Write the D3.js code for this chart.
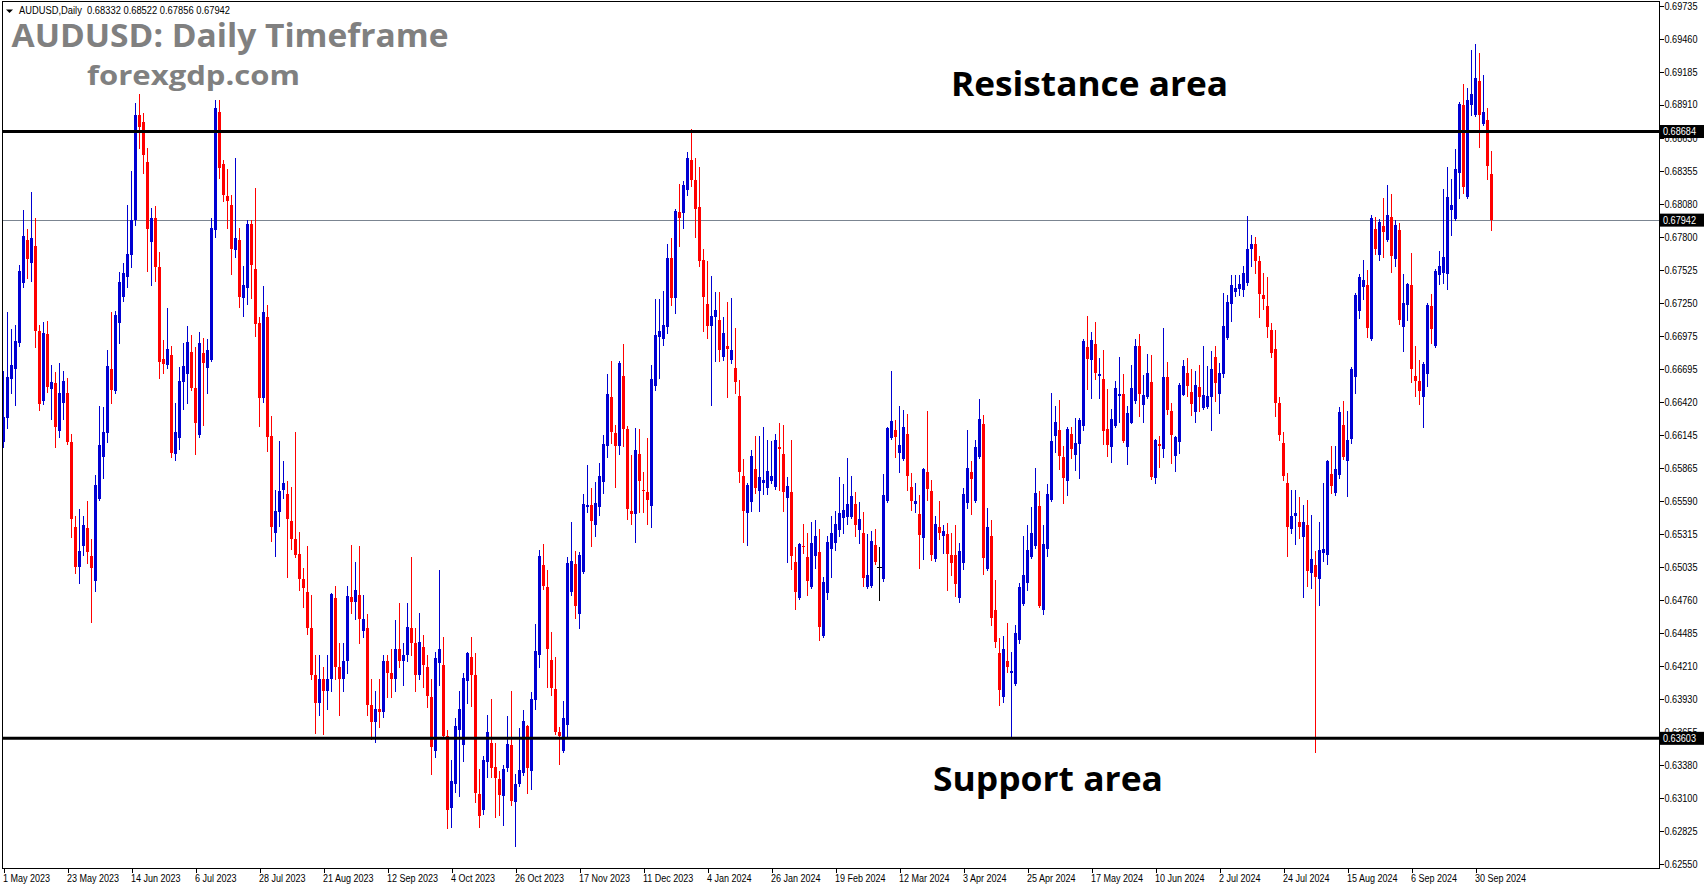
<!DOCTYPE html>
<html><head><meta charset="utf-8">
<script src="https://cdn.jsdelivr.net/npm/d3@7"></script>
<style>
html,body{margin:0;padding:0;background:#fff;overflow:hidden;}
svg{display:block;}
</style></head>
<body>
<svg id="chart" width="1705" height="888"></svg>
<script>
// ---------- DATA (AUDUSD daily, 1 May 2023 .. 4 Oct 2024) ----------
const openPrices = [
0.66087,0.66282,0.66609,0.66693,0.66916,0.67413,0.67776,0.67581,0.67726,0.67014,
0.66430,0.66989,0.66531,0.66578,0.66179,0.66408,0.66495,0.66084,0.65375,0.65040,
0.65216,0.65367,0.65129,0.64923,0.65610,0.65956,0.66162,0.66696,0.66514,0.67078,
0.67302,0.67463,0.67651,0.67943,0.68823,0.68764,0.68429,0.67762,0.67960,0.67550,
0.66779,0.66729,0.66813,0.65986,0.66121,0.66590,0.66654,0.66841,0.66537,0.66143,
0.66832,0.66707,0.66771,0.67860,0.68851,0.68412,0.68144,0.68069,0.67692,0.67776,
0.67290,0.67374,0.67910,0.67533,0.67081,0.66453,0.67131,0.66134,0.65325,0.65501,
0.65682,0.65649,0.65423,0.65275,0.65146,0.64937,0.64828,0.64530,0.64130,0.63900,
0.64100,0.64000,0.64100,0.64775,0.64200,0.64100,0.64250,0.64786,0.64741,0.64800,
0.64500,0.64524,0.63880,0.63740,0.63850,0.63820,0.64250,0.64150,0.64100,0.64350,
0.64250,0.64300,0.64524,0.64400,0.64134,0.64368,0.64200,0.63949,0.63501,0.64230,
0.64218,0.63620,0.63016,0.63217,0.63677,0.63551,0.64087,0.64284,0.64134,0.63139,
0.63004,0.63405,0.63566,0.63363,0.63264,0.63121,0.63357,0.63551,0.63070,0.63223,
0.63312,0.63710,0.63333,0.63925,0.64305,0.65055,0.64867,0.64260,0.64015,0.63656,
0.63501,0.63716,0.64828,0.65061,0.64643,0.64996,0.65540,0.65555,0.65387,0.65540,
0.65746,0.66048,0.66461,0.66162,0.66048,0.66637,0.66192,0.65504,0.65480,0.65982,
0.65680,0.65665,0.65546,0.66553,0.66966,0.66950,0.67047,0.67625,0.67290,0.68011,
0.68002,0.68195,0.68446,0.68279,0.68053,0.67609,0.67240,0.67059,0.67134,0.67106,
0.66796,0.66888,0.66774,0.66704,0.66470,0.65800,0.65486,0.65579,0.65860,0.65677,
0.65743,0.65695,0.65758,0.65710,0.66045,0.65982,0.65615,0.65665,0.65082,0.64777,
0.65211,0.65121,0.64867,0.65130,0.65160,0.64463,0.64822,0.65190,0.65241,0.65351,
0.65450,0.65459,0.65459,0.65565,0.65347,0.65322,0.64870,0.64881,0.65221,0.65034,
0.64937,0.65590,0.66120,0.66185,0.65992,0.65942,0.66151,0.65707,0.65568,0.65481,
0.65283,0.65833,0.65674,0.65104,0.65372,0.65297,0.65314,0.65138,0.65138,0.64780,
0.65071,0.65576,0.65833,0.65590,0.65958,0.66235,0.65020,0.65297,0.64677,0.64314,
0.63951,0.64250,0.64152,0.64060,0.64428,0.64730,0.64906,0.65124,0.65216,0.65548,
0.64680,0.65185,0.65598,0.66137,0.66185,0.65958,0.65760,0.66151,0.65978,0.66070,
0.66221,0.66880,0.66771,0.66905,0.66640,0.66612,0.66193,0.66045,0.66218,0.66472,
0.66486,0.66045,0.66246,0.66430,0.66888,0.66397,0.66461,0.66587,0.65785,0.66067,
0.66028,0.66629,0.66344,0.65970,0.66087,0.66481,0.66662,0.66503,0.66338,0.66545,
0.66372,0.66380,0.66464,0.66796,0.66489,0.66654,0.66958,0.67243,0.67343,0.67366,
0.67360,0.67419,0.67700,0.67740,0.67600,0.67315,0.67223,0.67022,0.66863,0.66411,
0.66076,0.65741,0.65358,0.65467,0.65411,0.65292,0.65389,0.64990,0.65054,0.64940,
0.65158,0.65141,0.65817,0.65660,0.65811,0.66227,0.65928,0.66109,0.66631,0.67181,
0.67382,0.67399,0.66950,0.67868,0.67650,0.67893,0.67776,0.67969,0.67617,0.67860,
0.67050,0.67232,0.67399,0.66637,0.66595,0.66461,0.66654,0.67223,0.66891,0.67483,
0.67500,0.67491,0.68027,0.67952,0.68337,0.68907,0.68139,0.68907,0.68823,0.69108,
0.68748,0.68781,0.68332
];
const highPrices = [
0.66682,0.67170,0.67031,0.67064,0.67567,0.68027,0.67868,0.68178,0.67958,0.67064,
0.67087,0.67098,0.66729,0.66673,0.66749,0.66679,0.66620,0.66151,0.65467,0.65520,
0.65467,0.65593,0.65269,0.65808,0.66389,0.66380,0.66855,0.67170,0.67181,0.67508,
0.67581,0.68069,0.68354,0.68921,0.68999,0.68837,0.68544,0.68047,0.68061,0.67678,
0.66939,0.67209,0.66888,0.66408,0.66715,0.66916,0.67056,0.66980,0.66877,0.67006,
0.66958,0.66947,0.67958,0.68948,0.68948,0.68446,0.68371,0.68153,0.68463,0.67877,
0.67558,0.67944,0.67944,0.68212,0.67134,0.67391,0.67232,0.66302,0.65679,0.66093,
0.65925,0.65758,0.65707,0.66168,0.65328,0.65032,0.65213,0.64803,0.64300,0.64300,
0.64200,0.64300,0.64817,0.64881,0.64400,0.64400,0.64875,0.65224,0.65079,0.65213,
0.64803,0.64644,0.64100,0.64000,0.64100,0.64300,0.64300,0.64350,0.64593,0.64738,
0.64400,0.64738,0.65118,0.64524,0.64655,0.64469,0.64299,0.64096,0.64326,0.65011,
0.64454,0.63671,0.63423,0.63776,0.64000,0.64149,0.64329,0.64454,0.64314,0.63348,
0.63453,0.63800,0.63934,0.63566,0.63333,0.63381,0.63791,0.64000,0.63303,0.63686,
0.63841,0.63716,0.63994,0.64562,0.65181,0.65232,0.65011,0.64493,0.64284,0.63695,
0.63916,0.65121,0.65414,0.65172,0.65163,0.65647,0.65893,0.65698,0.65746,0.65908,
0.66144,0.66655,0.66763,0.66227,0.66760,0.66906,0.66219,0.65979,0.66204,0.66192,
0.65833,0.66120,0.66727,0.67282,0.67282,0.67349,0.67743,0.67793,0.68036,0.68245,
0.68270,0.68513,0.68706,0.68463,0.68388,0.67701,0.67600,0.67475,0.67341,0.67341,
0.67131,0.67257,0.67290,0.67039,0.66604,0.65943,0.65743,0.66018,0.66138,0.66135,
0.66213,0.66102,0.66093,0.66153,0.66242,0.66227,0.65788,0.66102,0.65202,0.65241,
0.65399,0.65325,0.65411,0.65432,0.65357,0.64954,0.65298,0.65465,0.65504,0.65794,
0.65732,0.65950,0.65799,0.65665,0.65584,0.65498,0.65311,0.65339,0.65355,0.65205,
0.65816,0.66210,0.66682,0.66268,0.66386,0.66352,0.66319,0.65824,0.65741,0.65640,
0.65869,0.66344,0.65766,0.65464,0.65590,0.65389,0.65406,0.65322,0.65389,0.65238,
0.65699,0.66185,0.65925,0.66101,0.66444,0.66310,0.65531,0.65431,0.64928,0.64440,
0.64459,0.64571,0.64328,0.64551,0.64903,0.65297,0.65389,0.65540,0.65866,0.65674,
0.65389,0.65732,0.66495,0.66386,0.66436,0.66051,0.66213,0.66210,0.66285,0.66285,
0.66947,0.67139,0.67005,0.67089,0.66788,0.66855,0.66528,0.66360,0.66595,0.66796,
0.66654,0.66388,0.66732,0.66947,0.66989,0.66645,0.66821,0.66813,0.66109,0.66134,
0.67039,0.66754,0.66414,0.66134,0.66578,0.66771,0.66788,0.66698,0.66679,0.66729,
0.66888,0.66721,0.66846,0.66888,0.66746,0.67332,0.67315,0.67480,0.67480,0.67480,
0.67560,0.67980,0.67820,0.67800,0.67640,0.67500,0.67470,0.67084,0.67022,0.66461,
0.66168,0.65824,0.65682,0.65682,0.65623,0.65557,0.65599,0.65473,0.65172,0.65415,
0.65741,0.65934,0.66051,0.66051,0.66378,0.66428,0.66344,0.66715,0.67329,0.67494,
0.67609,0.67525,0.67985,0.67969,0.67952,0.68128,0.68237,0.68161,0.67944,0.67918,
0.67491,0.67416,0.67667,0.66888,0.66771,0.66754,0.67248,0.67324,0.67536,0.67684,
0.68203,0.68387,0.68287,0.68538,0.68932,0.69083,0.69049,0.69367,0.69418,0.69342,
0.69158,0.68882,0.68522
];
const lowPrices = [
0.66045,0.66199,0.66492,0.66394,0.66888,0.67385,0.67461,0.67436,0.66883,0.66352,
0.66403,0.66506,0.66280,0.66045,0.66129,0.66274,0.66065,0.65291,0.64984,0.64900,
0.65138,0.65068,0.64579,0.64839,0.65600,0.65785,0.66087,0.66408,0.66497,0.66916,
0.67268,0.67385,0.67553,0.67900,0.68544,0.68334,0.67519,0.67402,0.67436,0.66623,
0.66665,0.66701,0.65961,0.65933,0.66026,0.66358,0.66408,0.66520,0.65984,0.66130,
0.66227,0.66497,0.66760,0.67800,0.68292,0.68100,0.67874,0.67491,0.67637,0.67218,
0.67142,0.67243,0.67293,0.66975,0.66218,0.66422,0.66012,0.65258,0.65132,0.65381,
0.65618,0.64956,0.65191,0.65120,0.64845,0.64700,0.64480,0.64100,0.63650,0.63800,
0.63640,0.63850,0.64000,0.64100,0.63800,0.64000,0.64150,0.64650,0.64600,0.64400,
0.64450,0.63800,0.63600,0.63570,0.63700,0.63780,0.63950,0.63950,0.64000,0.64200,
0.64050,0.64250,0.64300,0.64000,0.64100,0.64036,0.63865,0.63306,0.63447,0.64051,
0.63611,0.62849,0.62858,0.63157,0.63124,0.63417,0.63895,0.63877,0.63073,0.62858,
0.62968,0.63282,0.63276,0.62947,0.62965,0.62879,0.63333,0.63043,0.62699,0.63200,
0.63300,0.63142,0.63175,0.63850,0.64200,0.64852,0.64030,0.63970,0.63641,0.63387,
0.63486,0.63605,0.64800,0.64613,0.64523,0.64987,0.65500,0.65211,0.65301,0.65474,
0.65659,0.65958,0.66072,0.65704,0.65988,0.66048,0.65438,0.65396,0.65250,0.65495,
0.65495,0.65396,0.65369,0.66520,0.66623,0.66897,0.67000,0.67232,0.67167,0.67726,
0.67879,0.68153,0.68228,0.67804,0.67561,0.67014,0.66955,0.66397,0.66765,0.66765,
0.66771,0.66464,0.66749,0.66495,0.65749,0.65247,0.65226,0.65510,0.65659,0.65510,
0.65653,0.65653,0.65740,0.65689,0.65680,0.65510,0.65076,0.65017,0.64682,0.64771,
0.65151,0.64801,0.64860,0.65031,0.64425,0.64450,0.64771,0.64957,0.65181,0.65300,
0.65325,0.65397,0.65450,0.65297,0.65238,0.64881,0.64864,0.64870,0.65062,0.64761,
0.64923,0.65580,0.66110,0.65961,0.65833,0.65935,0.65682,0.65515,0.65498,0.65031,
0.65107,0.65598,0.65099,0.65090,0.65272,0.65152,0.64844,0.64973,0.64797,0.64744,
0.65023,0.65531,0.65484,0.65585,0.65950,0.64981,0.65015,0.64554,0.64370,0.63884,
0.63906,0.64160,0.63602,0.64050,0.64403,0.64722,0.64847,0.65110,0.65200,0.64700,
0.64646,0.65132,0.65590,0.66003,0.65861,0.65576,0.65640,0.65953,0.65850,0.65785,
0.66187,0.66531,0.66455,0.66615,0.66455,0.66070,0.65970,0.65919,0.66210,0.66254,
0.66087,0.65903,0.66240,0.66411,0.66305,0.66254,0.66450,0.65777,0.65743,0.65877,
0.65961,0.66321,0.65911,0.65844,0.65995,0.66475,0.66472,0.66313,0.66254,0.66347,
0.66363,0.66370,0.66187,0.66430,0.66330,0.66631,0.66950,0.67100,0.67307,0.67315,
0.67307,0.67400,0.67560,0.67500,0.67134,0.67201,0.66966,0.66799,0.66305,0.66104,
0.65766,0.65132,0.65325,0.65233,0.65283,0.64789,0.64881,0.64865,0.63485,0.64722,
0.65091,0.65066,0.65660,0.65641,0.65786,0.65942,0.65635,0.66073,0.66497,0.67123,
0.67285,0.66966,0.66940,0.67662,0.67609,0.67634,0.67770,0.67508,0.67558,0.67072,
0.66849,0.67106,0.66589,0.66469,0.66402,0.66213,0.66556,0.66916,0.66880,0.67410,
0.67419,0.67368,0.67818,0.67944,0.68128,0.68173,0.68130,0.68823,0.68815,0.68555,
0.68740,0.68287,0.67856
];
const closePrices = [
0.66296,0.66631,0.66729,0.66930,0.67517,0.67810,0.67614,0.67790,0.67017,0.66400,
0.66997,0.66548,0.66587,0.66207,0.66495,0.66595,0.66084,0.65436,0.65040,0.65171,
0.65389,0.65166,0.65032,0.65724,0.66059,0.66168,0.66721,0.66520,0.67151,0.67424,
0.67500,0.67659,0.67944,0.68823,0.68725,0.68488,0.67868,0.67960,0.67553,0.66757,
0.66740,0.66860,0.65995,0.66168,0.66598,0.66721,0.66922,0.66534,0.66246,0.66913,
0.66743,0.66855,0.67877,0.68879,0.68376,0.68153,0.68105,0.67701,0.67793,0.67302,
0.67399,0.67910,0.67567,0.67075,0.66453,0.67173,0.66129,0.65375,0.65506,0.65674,
0.65744,0.65436,0.65275,0.65138,0.64937,0.64864,0.64530,0.64130,0.63900,0.64100,
0.64000,0.64100,0.64808,0.64200,0.64100,0.64250,0.64797,0.64741,0.64847,0.64600,
0.64602,0.63880,0.63740,0.63850,0.63820,0.64250,0.64150,0.64100,0.64350,0.64250,
0.64300,0.64538,0.64400,0.64130,0.64410,0.64218,0.63961,0.63528,0.64278,0.64353,
0.63620,0.63007,0.63246,0.63707,0.63850,0.64111,0.64320,0.64134,0.63142,0.62953,
0.63423,0.63656,0.63357,0.63273,0.63130,0.63348,0.63557,0.63079,0.63223,0.63339,
0.63746,0.63354,0.63931,0.64335,0.65130,0.64882,0.64353,0.64021,0.63656,0.63620,
0.63770,0.65070,0.65085,0.64709,0.65142,0.65564,0.65555,0.65420,0.65576,0.65803,
0.66069,0.66488,0.66168,0.66048,0.66748,0.66192,0.65522,0.65480,0.66018,0.65755,
0.65671,0.65597,0.66610,0.66980,0.67014,0.67064,0.67625,0.67290,0.68019,0.67963,
0.68237,0.68463,0.68279,0.68039,0.67600,0.67299,0.67059,0.67140,0.67190,0.66858,
0.66997,0.66863,0.66855,0.66587,0.65830,0.65510,0.65728,0.65967,0.65698,0.65791,
0.65764,0.65839,0.65800,0.66102,0.66024,0.65665,0.65716,0.65127,0.64828,0.65232,
0.65202,0.64918,0.65241,0.65298,0.64535,0.64912,0.65247,0.65325,0.65399,0.65492,
0.65515,0.65565,0.65632,0.65389,0.65439,0.64948,0.64970,0.65255,0.65079,0.65034,
0.65640,0.66204,0.66260,0.66126,0.66059,0.66210,0.65802,0.65590,0.65590,0.65305,
0.65858,0.65690,0.65138,0.65397,0.65322,0.65339,0.65146,0.65071,0.64897,0.65171,
0.65649,0.65866,0.65774,0.66042,0.66277,0.65115,0.65372,0.64613,0.64412,0.64010,
0.64350,0.64202,0.64166,0.64481,0.64870,0.64970,0.65179,0.65322,0.65657,0.64713,
0.65230,0.65649,0.66092,0.66252,0.65967,0.65785,0.66193,0.66028,0.66076,0.66268,
0.66930,0.66782,0.66938,0.66665,0.66654,0.66179,0.66062,0.66277,0.66536,0.66486,
0.66095,0.66330,0.66536,0.66888,0.66489,0.66478,0.66662,0.65791,0.66101,0.66053,
0.66629,0.66355,0.66146,0.66126,0.66562,0.66721,0.66556,0.66405,0.66559,0.66464,
0.66478,0.66470,0.66696,0.66581,0.66662,0.67056,0.67257,0.67400,0.67374,0.67408,
0.67500,0.67700,0.67740,0.67600,0.67327,0.67285,0.67050,0.66832,0.66411,0.66146,
0.65802,0.65375,0.65464,0.65489,0.65369,0.65415,0.65007,0.65105,0.64957,0.65180,
0.65188,0.65926,0.65719,0.65859,0.66336,0.65962,0.66101,0.66696,0.67315,0.67466,
0.67441,0.67042,0.67960,0.67701,0.67927,0.67843,0.67985,0.67642,0.67902,0.67106,
0.67248,0.67408,0.66696,0.66595,0.66511,0.66737,0.67232,0.67033,0.67516,0.67558,
0.67634,0.68139,0.68069,0.68371,0.68915,0.68223,0.68949,0.68999,0.69133,0.68823,
0.68848,0.68396,0.67942
];

const priceTicks = [0.69735,0.69460,0.69185,0.68910,0.68630,0.68355,0.68080,0.67800,0.67525,0.67250,
  0.66975,0.66695,0.66420,0.66145,0.65865,0.65590,0.65315,0.65035,0.64760,0.64485,0.64210,
  0.63930,0.63655,0.63380,0.63100,0.62825,0.62550];
const dateTickBars = [0,16,32,48,64,80,96,112,128,144,160,176,192,208,224,240,256,272,288,304,320,336,352,368];
const dateTickLabels = ["1 May 2023","23 May 2023","14 Jun 2023","6 Jul 2023","28 Jul 2023","21 Aug 2023",
  "12 Sep 2023","4 Oct 2023","26 Oct 2023","17 Nov 2023","11 Dec 2023","4 Jan 2024","26 Jan 2024",
  "19 Feb 2024","12 Mar 2024","3 Apr 2024","25 Apr 2024","17 May 2024","10 Jun 2024","2 Jul 2024",
  "24 Jul 2024","15 Aug 2024","6 Sep 2024","30 Sep 2024"];
const resistanceLevel = 0.68684;
const supportLevel = 0.63603;
const bidLevel = 0.67942;
const headerText = "AUDUSD,Daily  0.68332 0.68522 0.67856 0.67942";
const titleText = "AUDUSD: Daily Timeframe";
const siteText = "forexgdp.com";
const resistanceText = "Resistance area";
const supportText = "Support area";

// ---------- DRAWING ----------
const n = Math.min(openPrices.length, highPrices.length, lowPrices.length, closePrices.length);
const bars = d3.range(n).map(i => ({i, o:openPrices[i], h:highPrices[i], l:lowPrices[i], c:closePrices[i]}));

const frame = {left:2, top:1, right:1659, bottom:868};
const x = d3.scaleLinear().domain([0, 372]).range([3.5, 3.5 + 4*372]);
const y = d3.scaleLinear().domain([0.62550, 0.69735]).range([864.1, 6.0]);

const svg = d3.select("#chart");
svg.append("rect").attr("width",1705).attr("height",888).attr("fill","#fff");

svg.append("defs").append("clipPath").attr("id","plotclip")
  .append("rect").attr("x",frame.left+1).attr("y",frame.top+1)
  .attr("width",frame.right-frame.left-1).attr("height",frame.bottom-frame.top-1);

const plot = svg.append("g").attr("clip-path","url(#plotclip)");

// bid line (thin gray)
plot.append("line").attr("x1",frame.left).attr("x2",frame.right)
  .attr("y1",Math.round(y(bidLevel))+0.5).attr("y2",Math.round(y(bidLevel))+0.5)
  .attr("stroke","#7b8591").attr("stroke-width",1);

const BLUE = "#0000d2", RED = "#ff0000", DOJI = "#000000";
const col = d => d.c > d.o ? BLUE : (d.c < d.o ? RED : DOJI);

const cg = plot.append("g");
cg.selectAll("line.wick").data(bars).join("line").attr("class","wick")
  .attr("x1",d=>Math.floor(x(d.i))+0.5).attr("x2",d=>Math.floor(x(d.i))+0.5)
  .attr("y1",d=>Math.round(y(d.h))).attr("y2",d=>Math.round(y(d.l))+1)
  .attr("stroke",col).attr("stroke-width",1).attr("shape-rendering","crispEdges");
cg.selectAll("rect.body").data(bars).join("rect").attr("class","body")
  .attr("x",d=>Math.floor(x(d.i))-1).attr("width",3)
  .attr("y",d=>Math.round(y(Math.max(d.o,d.c))))
  .attr("height",d=>Math.max(1, Math.round(y(Math.min(d.o,d.c))) - Math.round(y(Math.max(d.o,d.c)))))
  .attr("fill",col).attr("shape-rendering","crispEdges");
cg.selectAll("line.doji").data(bars.filter(d=>d.o===d.c)).join("line").attr("class","doji")
  .attr("x1",d=>Math.floor(x(d.i))-2).attr("x2",d=>Math.floor(x(d.i))+3)
  .attr("y1",d=>Math.round(y(d.o))+0.5).attr("y2",d=>Math.round(y(d.o))+0.5)
  .attr("stroke",DOJI).attr("shape-rendering","crispEdges");

// support / resistance lines
[resistanceLevel, supportLevel].forEach(v=>{
  plot.append("line").attr("x1",frame.left).attr("x2",frame.right)
    .attr("y1",y(v)).attr("y2",y(v)).attr("stroke","#000").attr("stroke-width",3);
});

// frame
svg.append("rect").attr("x",frame.left+0.5).attr("y",frame.top+0.5)
  .attr("width",frame.right-frame.left).attr("height",frame.bottom-frame.top)
  .attr("fill","none").attr("stroke","#000").attr("stroke-width",1).attr("shape-rendering","crispEdges");

const axisFont = "'Liberation Sans', Arial, sans-serif";

// right price axis
const yAxis = d3.axisRight(y).tickValues(priceTicks).tickSize(4).tickPadding(1)
  .tickFormat(d3.format(".5f"));
const yg = svg.append("g").attr("transform",`translate(${frame.right+0.5},0)`).call(yAxis);
yg.select(".domain").remove();
yg.selectAll("line").attr("stroke","#000").attr("shape-rendering","crispEdges");
yg.selectAll("text").attr("font-family",axisFont).attr("font-size",10.5).attr("fill","#000")
  .attr("textLength",33).attr("lengthAdjust","spacingAndGlyphs");

// bottom date axis
const xAxis = d3.axisBottom(x).tickValues(dateTickBars).tickSize(4)
  .tickFormat((d,i)=>dateTickLabels[i]);
const xg = svg.append("g").attr("transform",`translate(0,${frame.bottom+0.5})`).call(xAxis);
xg.select(".domain").remove();
xg.selectAll("line").attr("stroke","#000").attr("shape-rendering","crispEdges");
xg.selectAll("text").attr("font-family",axisFont).attr("font-size",10).attr("fill","#000")
  .attr("text-anchor","start").attr("x",-1).attr("y",6).attr("dy","0.71em");
xg.selectAll("text").each(function(){
  const w = this.getComputedTextLength();
  d3.select(this).attr("textLength", w*0.9).attr("lengthAdjust","spacingAndGlyphs");
});

// price boxes
function priceBox(v){
  const yy = y(v);
  const g = svg.append("g");
  g.append("rect").attr("x",frame.right+1).attr("y",yy-6.5).attr("width",44).attr("height",13).attr("fill","#000");
  g.append("text").attr("x",frame.right+4).attr("y",yy+3.7).attr("fill","#fff")
    .attr("font-family",axisFont).attr("font-size",10.5)
    .attr("textLength",33).attr("lengthAdjust","spacingAndGlyphs").text(d3.format(".5f")(v));
}
priceBox(resistanceLevel); priceBox(supportLevel); priceBox(bidLevel);

// header
svg.append("path").attr("d","M6,9.5 L13,9.5 L9.5,13 Z").attr("fill","#000");
svg.append("text").attr("x",19).attr("y",14).attr("font-family",axisFont).attr("font-size",10)
  .attr("fill","#000").style("white-space","pre").attr("textLength",211).attr("lengthAdjust","spacingAndGlyphs")
  .text(headerText);

// watermark titles
const titleFont = "'Open Sans', 'Noto Sans', sans-serif";
svg.append("text").attr("x",11.5).attr("y",47).attr("font-family",titleFont).attr("font-weight",700)
  .attr("font-size",32).attr("fill","#808080").attr("textLength",437).attr("lengthAdjust","spacingAndGlyphs")
  .text(titleText);
svg.append("text").attr("x",87).attr("y",84.5).attr("font-family",titleFont).attr("font-weight",700)
  .attr("font-size",27).attr("fill","#808080").attr("textLength",213).attr("lengthAdjust","spacingAndGlyphs")
  .text(siteText);

svg.append("text").attr("x",951).attr("y",96).attr("font-family",titleFont).attr("font-weight",700)
  .attr("font-size",34).attr("fill","#000").attr("textLength",277).attr("lengthAdjust","spacingAndGlyphs")
  .text(resistanceText);
svg.append("text").attr("x",933).attr("y",791).attr("font-family",titleFont).attr("font-weight",700)
  .attr("font-size",34).attr("fill","#000").attr("textLength",230).attr("lengthAdjust","spacingAndGlyphs")
  .text(supportText);
</script>
</body></html>
